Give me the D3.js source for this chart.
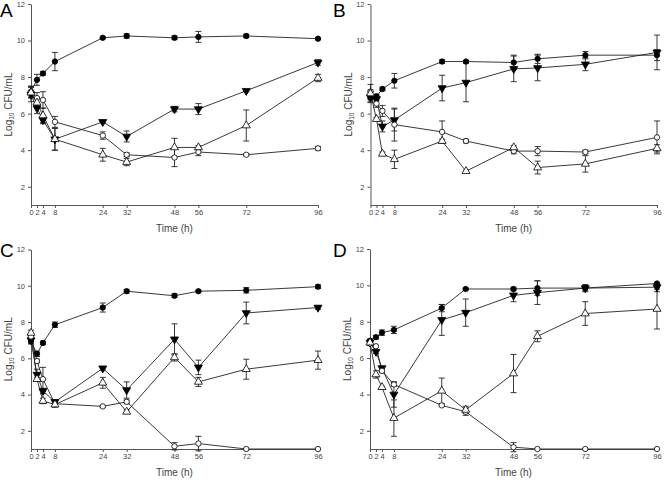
<!DOCTYPE html>
<html lang="en">
<head>
<meta charset="utf-8">
<title>Time-kill curves</title>
<script src="https://d3js.org/d3.v7.min.js"></script>
<style>
  body { margin: 0; background: #fff; }
  svg text { font-family: 'Liberation Sans', Arial, sans-serif; }
</style>
</head>
<body>
<script>
// sampling times (h) and axis ticks
var times = [0, 2, 4, 8, 24, 32, 48, 56, 72, 96];
var yTicks = [2, 4, 6, 8, 10, 12];
var panelLetters = ["A", "B", "C", "D"];

// series order in every panel: filled circle, filled inverted triangle, open circle, open triangle
// panel A
var aFilledCircle = [7.2, 7.85, 8.2, 8.85, 10.15, 10.25, 10.15, 10.2, 10.25, 10.1];
var aFilledCircleErr = [0.3, 0.3, 0.1, 0.5, 0.05, 0.12, 0.1, 0.3, 0.1, 0.05];
var aFilledTri = [7.05, 6.3, 5.65, 4.6, 5.55, 4.75, 6.25, 6.25, 7.25, 8.8];
var aFilledTriErr = [0.4, 0.3, 0.2, 0.6, 0.05, 0.3, 0.15, 0.3, 0.05, 0.15];
var aOpenCircle = [7.2, 6.85, 6.75, 5.55, 4.8, 3.75, 3.6, 3.9, 3.75, 4.1];
var aOpenCircleErr = [0.3, 0.3, 0.45, 0.3, 0.2, 0.1, 0.5, 0.2, 0.05, 0.1];
var aOpenTri = [7.15, 6.6, 5.9, 4.6, 3.75, 3.35, 4.15, 4.15, 5.35, 7.95];
var aOpenTriErr = [0.3, 0.3, 0.4, 0.6, 0.35, 0.2, 0.5, 0.1, 0.85, 0.2];

// panel B
var bFilledCircle = [6.85, 6.95, 7.35, 7.8, 8.85, 8.85, 8.8, 9.0, 9.2, 9.2];
var bFilledCircleErr = [0.2, 0.1, 0.1, 0.4, 0.1, 0.05, 0.4, 0.25, 0.2, 0.3];
var bFilledTri = [6.9, 6.8, 5.3, 5.65, 7.4, 7.7, 8.45, 8.5, 8.7, 9.35];
var bFilledTriErr = [0.3, 0.1, 0.3, 0.6, 0.7, 1.05, 0.7, 0.7, 0.35, 0.95];
var bOpenCircle = [7.2, 6.55, 6.15, 5.4, 5.0, 4.5, 3.95, 3.95, 3.9, 4.7];
var bOpenCircleErr = [0.4, 0.2, 0.3, 0.9, 0.6, 0.1, 0.15, 0.25, 0.1, 0.9];
var bOpenTri = [7.1, 5.7, 3.8, 3.5, 4.5, 2.85, 4.15, 3.05, 3.25, 4.1];
var bOpenTriErr = [0.2, 0.1, 0.1, 0.5, 0.1, 0.05, 0.1, 0.35, 0.45, 0.2];

// panel C
var cFilledCircle = [6.95, 6.25, 6.85, 7.85, 8.8, 9.7, 9.45, 9.7, 9.75, 9.95];
var cFilledCircleErr = [0.15, 0.15, 0.1, 0.15, 0.25, 0.1, 0.1, 0.05, 0.15, 0.1];
var cFilledTri = [7.0, 5.1, 4.2, 3.6, 5.45, 4.25, 7.05, 5.5, 8.5, 8.8];
var cFilledTriErr = [0.2, 0.3, 0.15, 0.1, 0.1, 0.45, 0.85, 0.4, 0.6, 0.1];
var cOpenCircle = [7.2, 5.85, 4.85, 3.5, 3.35, 3.6, 1.15, 1.3, 1.0, 1.0];
var cOpenCircleErr = [0.2, 0.1, 0.65, 0.1, 0.05, 0.1, 0.2, 0.4, 0, 0];
var cOpenTri = [7.4, 4.85, 3.65, 3.45, 4.65, 3.05, 6.05, 4.7, 5.4, 5.9];
var cOpenTriErr = [0.15, 0.1, 0.15, 0.15, 0.3, 0.1, 0.2, 0.25, 0.55, 0.5];

// panel D
var dFilledCircle = [6.95, 7.15, 7.4, 7.55, 8.75, 9.8, 9.8, 9.85, 9.85, 10.1];
var dFilledCircleErr = [0.1, 0.1, 0.15, 0.2, 0.2, 0.05, 0.1, 0.4, 0.15, 0.05];
var dFilledTri = [6.85, 6.35, 5.45, 4.0, 8.1, 8.5, 9.45, 9.6, 9.85, 9.9];
var dFilledTriErr = [0.1, 0.1, 0.1, 0.7, 0.85, 0.75, 0.35, 0.65, 0.2, 0.25];
var dOpenCircle = [6.8, 6.65, 5.3, 4.55, 3.4, 3.05, 1.1, 1.0, 1.0, 1.0];
var dOpenCircleErr = [0.1, 0.05, 0.1, 0.1, 0.05, 0.2, 0.25, 0, 0, 0];
var dOpenTri = [6.85, 5.1, 4.4, 2.7, 4.2, 3.15, 5.15, 7.2, 8.45, 8.7];
var dOpenTriErr = [0.15, 0.2, 0.05, 1.0, 0.7, 0.2, 1.05, 0.3, 0.65, 1.1];

var panelData = [
  [[aFilledCircle, aFilledCircleErr], [aFilledTri, aFilledTriErr], [aOpenCircle, aOpenCircleErr], [aOpenTri, aOpenTriErr]],
  [[bFilledCircle, bFilledCircleErr], [bFilledTri, bFilledTriErr], [bOpenCircle, bOpenCircleErr], [bOpenTri, bOpenTriErr]],
  [[cFilledCircle, cFilledCircleErr], [cFilledTri, cFilledTriErr], [cOpenCircle, cOpenCircleErr], [cOpenTri, cOpenTriErr]],
  [[dFilledCircle, dFilledCircleErr], [dFilledTri, dFilledTriErr], [dOpenCircle, dOpenCircleErr], [dOpenTri, dOpenTriErr]]
];

// marker styles per series
var markers = [
  {shape: "circle", fill: "#000"},
  {shape: "down", fill: "#000"},
  {shape: "circle", fill: "#fff"},
  {shape: "up", fill: "#fff"}
];

// panel frames: [x0, x1, yTop, yBottom, letter x, letter baseline]
var frames = [
  [31, 318, 4, 205, 0, 16.5],
  [370.5, 657, 4, 205, 333, 16.5],
  [31, 318, 249.5, 449, 0, 256.5],
  [370, 657, 249, 449, 333, 256.5]
];

var w = 664, h = 480;
var axisColor = "#555";

var svg = d3.select("body").append("svg")
  .attr("width", w)
  .attr("height", h);

panelData.forEach(function(series, p) {
  var f = frames[p];
  var x = d3.scaleLinear().domain([0, 96]).range([f[0], f[1]]);
  var y = d3.scaleLinear().domain([1, 12]).range([f[3], f[2]]);
  var g = svg.append("g");

  // axes
  var yAxis = d3.axisLeft(y).tickValues(yTicks).tickSize(3).tickSizeOuter(0).tickPadding(3);
  var xAxis = d3.axisBottom(x).tickValues(times).tickSize(3).tickSizeOuter(0).tickPadding(2);

  var ya = g.append("g").attr("transform", "translate(" + f[0] + ",0)").call(yAxis);
  var xa = g.append("g").attr("transform", "translate(0," + f[3] + ")").call(xAxis);
  [ya, xa].forEach(function(a) {
    a.select(".domain").attr("stroke", axisColor).attr("stroke-width", 1);
    a.selectAll(".tick line").attr("stroke", axisColor);
    a.selectAll(".tick text").attr("fill", "#444").attr("font-size", "7.5px")
      .attr("font-family", "'Liberation Sans', Arial, sans-serif");
  });

  // axis titles
  var yl = g.append("text")
    .attr("transform", "translate(" + (f[0] - 19) + "," + ((f[2] + f[3]) / 2) + ") rotate(-90)")
    .attr("text-anchor", "middle")
    .attr("font-size", "10px")
    .attr("fill", "#444");
  yl.append("tspan").text("Log");
  yl.append("tspan").attr("font-size", "6.5px").attr("dy", 2).text("10");
  yl.append("tspan").attr("dy", -2).text(" CFU/mL");

  g.append("text")
    .attr("x", (f[0] + f[1]) / 2)
    .attr("y", f[3] + 27)
    .attr("text-anchor", "middle")
    .attr("font-size", "10px")
    .attr("fill", "#444")
    .text("Time (h)");

  // panel letter
  g.append("text")
    .attr("x", f[4])
    .attr("y", f[5])
    .attr("font-size", "19px")
    .attr("fill", "#000")
    .text(panelLetters[p]);

  // lines
  var line = d3.line().x(function(d, i) { return x(times[i]); }).y(function(d) { return y(d); });
  series.forEach(function(s) {
    g.append("path")
      .attr("d", line(s[0]))
      .attr("fill", "none")
      .attr("stroke", "#222")
      .attr("stroke-width", 0.9);
  });

  // error bars
  series.forEach(function(s) {
    s[0].forEach(function(v, i) {
      var e = s[1][i];
      if (e <= 0.02) return;
      var cx = x(times[i]);
      var eb = g.append("g").attr("stroke", "#222").attr("stroke-width", 0.9);
      eb.append("line").attr("x1", cx).attr("x2", cx).attr("y1", y(v - e)).attr("y2", y(v + e));
      eb.append("line").attr("x1", cx - 3).attr("x2", cx + 3).attr("y1", y(v - e)).attr("y2", y(v - e));
      eb.append("line").attr("x1", cx - 3).attr("x2", cx + 3).attr("y1", y(v + e)).attr("y2", y(v + e));
    });
  });

  // markers
  series.forEach(function(s, k) {
    var m = markers[k];
    s[0].forEach(function(v, i) {
      var cx = x(times[i]), cy = y(v);
      if (m.shape === "circle") {
        g.append("circle").attr("cx", cx).attr("cy", cy).attr("r", 2.7)
          .attr("fill", m.fill).attr("stroke", "#000").attr("stroke-width", 0.8);
      } else {
        var sym = d3.symbol().type(d3.symbolTriangle).size(28);
        g.append("path").attr("d", sym())
          .attr("transform", "translate(" + cx + "," + cy + ")" + (m.shape === "down" ? " rotate(180)" : ""))
          .attr("fill", m.fill).attr("stroke", "#000").attr("stroke-width", 0.8);
      }
    });
  });
});
</script>
</body>
</html>
